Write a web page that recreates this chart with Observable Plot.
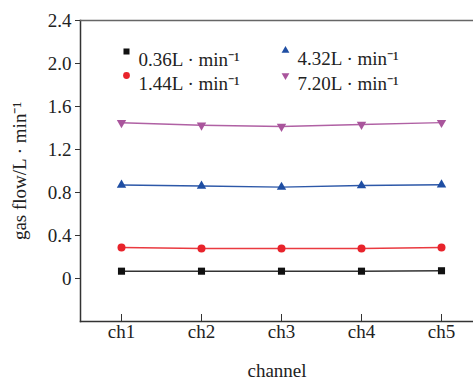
<!DOCTYPE html>
<html>
<head>
<meta charset="utf-8">
<script src="https://cdn.jsdelivr.net/npm/d3@7"></script>
<script src="https://cdn.jsdelivr.net/npm/@observablehq/plot@0.6"></script>
<style>
  html, body { margin: 0; padding: 0; background: #fff; }
  #chart { position: relative; width: 473px; height: 380px; overflow: hidden; }
  #chart svg, #chart svg text { font-family: 'Liberation Serif', 'Times New Roman', serif !important; }
</style>
</head>
<body>
<div id="chart"></div>
<script>
const channels = ["ch1", "ch2", "ch3", "ch4", "ch5"];
const seriesNames = ["0.36L · min⁻¹", "1.44L · min⁻¹", "4.32L · min⁻¹", "7.20L · min⁻¹"];
const flow036 = [0.068, 0.068, 0.068, 0.068, 0.072];
const flow144 = [0.288, 0.278, 0.278, 0.280, 0.288];
const flow432 = [0.870, 0.860, 0.850, 0.864, 0.872];
const flow720 = [1.448, 1.425, 1.414, 1.432, 1.450];
const yTicks = [0, 0.4, 0.8, 1.2, 1.6, 2.0, 2.4];
const yDomain = [-0.4, 2.4];

const seriesValues = [flow036, flow144, flow432, flow720];
const colors = ["#111111", "#e8232b", "#1f4ea3", "#a9559c"];
const lineColors = ["#333333", "#ea3a40", "#2d58a8", "#b061a4"];
const symbols = ["square", "circle", "triangle", "triangle"];
const rotations = [0, 0, 0, 180];
const sizes = [4.0, 4.0, 3.5, 3.5];

const data = [];
seriesValues.forEach((vals, s) => {
  vals.forEach((v, i) => data.push({series: seriesNames[s], s, channel: channels[i], value: v}));
});

const font = "'Liberation Serif', 'Times New Roman', serif";
const marks = [];

marks.push(Plot.frame({anchor: "left", stroke: "#333", strokeWidth: 1.5}));
marks.push(Plot.frame({anchor: "bottom", stroke: "#333", strokeWidth: 1.5}));
marks.push(Plot.frame({anchor: "top", stroke: "#666", strokeWidth: 1.5}));

marks.push(Plot.axisY({ticks: yTicks, tickFormat: d => d === 0 ? "0" : d.toFixed(1), tickSize: 5, tickPadding: 4,
  fontSize: 19, fontFamily: font, label: "gas flow/L · min⁻¹", labelAnchor: "center", labelArrow: "none", labelOffset: 68, stroke: "#333"}));
marks.push(Plot.axisX({tickSize: -7, tickPadding: 10, fontSize: 19, fontFamily: font, label: "channel", labelAnchor: "center", labelArrow: "none", labelOffset: 55, stroke: "#333"}));

seriesNames.forEach((name, s) => {
  const d = data.filter(r => r.s === s);
  marks.push(Plot.line(d, {x: "channel", y: "value", stroke: lineColors[s], strokeWidth: 1.5}));
  marks.push(Plot.dot(d, {x: "channel", y: "value", fill: colors[s], stroke: "none", symbol: symbols[s], r: sizes[s], rotate: rotations[s]}));
});

const legendPos = [[46, 31], [46, 55], [205, 30], [205, 55]];
seriesNames.forEach((name, s) => {
  const [dx, dy] = legendPos[s];
  marks.push(Plot.dot([name], {frameAnchor: "top-left", dx, dy, fill: colors[s], stroke: "none", symbol: symbols[s], r: sizes[s] - 0.6, rotate: rotations[s]}));
  marks.push(Plot.text([name], {frameAnchor: "top-left", dx: dx + 12, dy: dy + 1, text: d => d, textAnchor: "start", fontSize: 19, fontFamily: font, fill: "#222"}));
});

const plot = Plot.plot({
  width: 473,
  height: 380,
  marginLeft: 80,
  marginRight: 0,
  marginTop: 20,
  marginBottom: 59,
  style: {fontFamily: font, background: "#fff", color: "#222", overflow: "hidden"},
  x: {type: "point", domain: channels, range: [80, 482.5], padding: 0.5, label: null},
  y: {domain: yDomain, label: null},
  marks
});
document.getElementById("chart").appendChild(plot);
</script>
</body>
</html>
